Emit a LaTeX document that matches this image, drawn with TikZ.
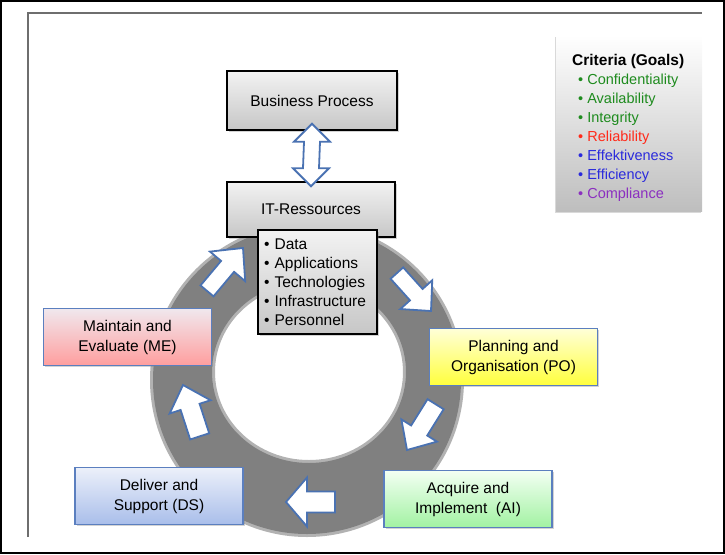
\documentclass[tikz,border=0pt]{standalone}
\usepackage{fontspec}
\setmainfont{Liberation Sans}
\usetikzlibrary{shadows,calc}

\newlength{\du}
\setlength{\du}{1pt}

\newcommand{\boxfont}{\fontsize{15.5}{20}\selectfont}
\newcommand{\listfont}{\fontsize{15.5}{19}\selectfont}
\newcommand{\critfont}{\fontsize{14.5}{19}\selectfont}

% block arrow pointing along +x, tip in the origin
% #1 length, #2 head length, #3 head width, #4 shaft width
\newcommand{\blockarrow}[4]{%
\draw[ringarrow] (0,0) -- (-#2,-#3/2) -- (-#2,-#4/2) -- (-#1,-#4/2)
  -- (-#1,#4/2) -- (-#2,#4/2) -- (-#2,#3/2) -- cycle;}

\begin{document}
\begin{tikzpicture}[x=1\du,y=-1\du]
\definecolor{framegray}{rgb}{0.430000, 0.430000, 0.430000}
\definecolor{ringgray}{rgb}{0.500000, 0.500000, 0.500000}
\definecolor{ringhalo}{rgb}{0.700000, 0.700000, 0.700000}
\definecolor{procTop}{rgb}{0.950000, 0.950000, 0.950000}
\definecolor{procBot}{rgb}{0.780000, 0.780000, 0.780000}
\definecolor{meTop}{HTML}{F0E8EE}
\definecolor{meBot}{HTML}{FF9E9E}
\definecolor{poTop}{HTML}{FFFFD8}
\definecolor{poBot}{HTML}{FFFF3C}
\definecolor{dsTop}{HTML}{ECF0FA}
\definecolor{dsBot}{HTML}{A9BEEA}
\definecolor{aiTop}{HTML}{F3FFF3}
\definecolor{aiBot}{HTML}{A2F2A2}
\definecolor{critBot}{HTML}{BEBEBE}
\definecolor{domainline}{HTML}{5B7FBF}
\definecolor{arrowline}{HTML}{4A72B2}
\definecolor{critGreen}{HTML}{1E8B1E}
\definecolor{critRed}{HTML}{FF2A1A}
\definecolor{critBlue}{HTML}{2A2ADC}
\definecolor{critPurple}{HTML}{8B2FC0}
\tikzset{
  boxshadow/.style={drop shadow={shadow xshift=1.5\du, shadow yshift=-1.5\du, opacity=0.35}},
  procbox/.style={draw=black, line width=1.5\du, top color=procTop, bottom color=procBot,
    boxshadow, font=\boxfont, align=center, inner sep=0pt},
  domainbox/.style={draw=domainline, line width=1.3\du, boxshadow, font=\boxfont,
    align=center, inner sep=0pt, minimum width=168\du, minimum height=57\du},
  critbox/.style={top color=white, bottom color=critBot, minimum width=146\du,
    minimum height=176\du, drop shadow={shadow xshift=-1\du, shadow yshift=-2\du, opacity=0.3}},
  ringarrow/.style={draw=arrowline, fill=white, line width=1.8\du, line join=miter},
}
\useasboundingbox (0,0) rectangle (725,554);

% frame
\draw[line width=2.4\du] (1.2,1.2) rectangle (723.8,552.8);
\draw[framegray, line width=1.2\du] (28,537) -- (28,13) -- (702,13);

% ring
\fill[ringhalo, even odd rule] (307,380) circle [radius=157]
  (309,372) ellipse [x radius=94, y radius=88];
\fill[ringgray, even odd rule] (307,380) circle [radius=154]
  (309,372) ellipse [x radius=97, y radius=91];

% criteria
\node[critbox] (crit) at (629,123) {};
\node[anchor=north west, align=left, inner sep=0pt, font=\critfont] (critlist) at (572,54)
  {{\fontsize{15.5}{19}\selectfont\bfseries Criteria (Goals)}\\
   \hspace*{6\du}\textcolor{critGreen}{\textbullet\ Confidentiality}\\
   \hspace*{6\du}\textcolor{critGreen}{\textbullet\ Availability}\\
   \hspace*{6\du}\textcolor{critGreen}{\textbullet\ Integrity}\\
   \hspace*{6\du}\textcolor{critRed}{\textbullet\ Reliability}\\
   \hspace*{6\du}\textcolor{critBlue}{\textbullet\ Effektiveness}\\
   \hspace*{6\du}\textcolor{critBlue}{\textbullet\ Efficiency}\\
   \hspace*{6\du}\textcolor{critPurple}{\textbullet\ Compliance}};

% resources
\node[procbox, minimum width=170\du, minimum height=59\du] (bp) at (312,100.5) {Business Process};
\node[procbox, minimum width=168\du, minimum height=55\du] (it) at (311,209.5) {IT-Ressources};
\node[procbox, font=\listfont, align=left, text width=107\du, inner xsep=6\du,
  minimum height=104\du] (list) at (317.5,282)
  {\textbullet\ Data\\\textbullet\ Applications\\\textbullet\ Technologies\\
   \textbullet\ Infrastructure\\\textbullet\ Personnel};

% domains
\node[domainbox, top color=meTop, bottom color=meBot] (me) at (127.5,337) {Maintain and\\Evaluate (ME)};
\node[domainbox, top color=poTop, bottom color=poBot] (po) at (513.5,357) {Planning and\\Organisation (PO)};
\node[domainbox, top color=aiTop, bottom color=aiBot] (ai) at (468,499) {Acquire and\\Implement\ \ (AI)};
\node[domainbox, top color=dsTop, bottom color=dsBot] (ds) at (159,496) {Deliver and\\Support (DS)};

% double arrow business process <-> it
\coordinate (lnktop) at ($(bp.south)+(0,-7)$);
\coordinate (lnkbot) at ($(it.north)+(0,5)$);
\draw[ringarrow] (lnktop) -- ++(18,18) -- ++(-10,0) -- ($(lnkbot)+(8,-18)$) -- ++(10,0)
  -- (lnkbot) -- ++(-18,-18) -- ++(10,0) -- ($(lnktop)+(-8,18)$) -- ++(-10,0) -- cycle;

% ring arrows
\coordinate (tipIT) at (243,248);
\coordinate (tipPO) at (431,311);
\coordinate (tipAI) at (407,450);
\coordinate (tipDS) at (286,502);
\coordinate (tipME) at (183,385);
\begin{scope}[shift={(tipIT)}, rotate=50]\blockarrow{56}{24}{46}{17}\end{scope}
\begin{scope}[shift={(tipPO)}, rotate=-48]\blockarrow{51}{22}{43}{17}\end{scope}
\begin{scope}[shift={(tipAI)}, rotate=238]\blockarrow{54}{23}{42}{19}\end{scope}
\begin{scope}[shift={(tipDS)}, rotate=180]\blockarrow{49}{21}{49}{21}\end{scope}
\begin{scope}[shift={(tipME)}, rotate=108]\blockarrow{54}{23}{43}{20}\end{scope}
\end{tikzpicture}
\end{document}
